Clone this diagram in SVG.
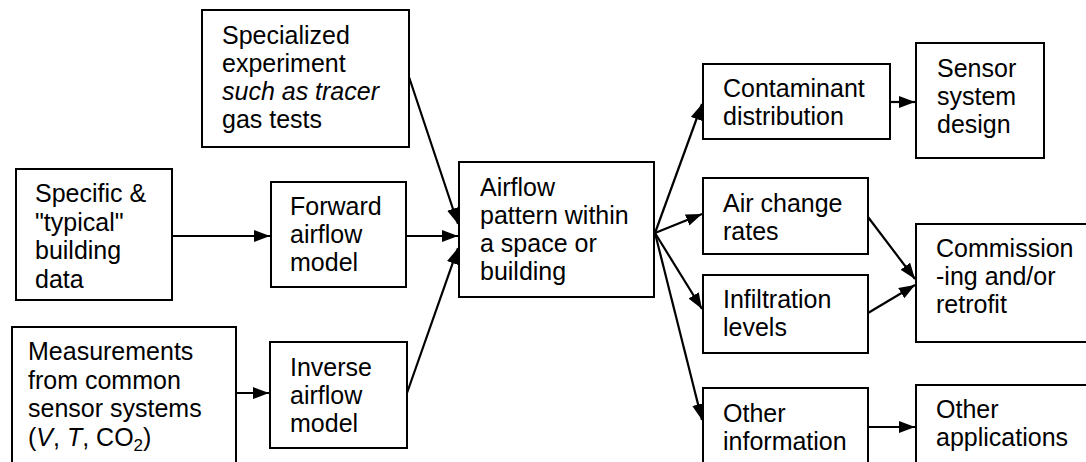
<svg xmlns="http://www.w3.org/2000/svg" width="1086" height="462" viewBox="0 0 1086 462">
<style>
.box{fill:#fff;stroke:#000;stroke-width:2}
.t{font-family:"Liberation Sans",Arial,sans-serif;font-size:25px;fill:#000}
.c{stroke:#000;stroke-width:2.2;fill:none;marker-end:url(#ah)}
</style>
<defs>
<marker id="ah" markerUnits="userSpaceOnUse" markerWidth="18" markerHeight="14" refX="16" refY="6" orient="auto">
<path d="M0,0 L16,6 L0,12 z" fill="#000"/>
</marker>
</defs>
<rect width="1086" height="462" fill="#fff"/>
<g id="connectors">
<line class="c" x1="172" y1="236" x2="270" y2="236"/>
<line class="c" x1="406" y1="236" x2="458" y2="236"/>
<line class="c" x1="409" y1="77" x2="458" y2="224"/>
<line class="c" x1="236" y1="393" x2="269" y2="393"/>
<line class="c" x1="407" y1="393" x2="458" y2="248"/>
<line class="c" x1="655" y1="233" x2="702" y2="104"/>
<line class="c" x1="655" y1="233" x2="702" y2="214"/>
<line class="c" x1="655" y1="233" x2="702" y2="309"/>
<line class="c" x1="655" y1="233" x2="702" y2="420"/>
<line class="c" x1="890" y1="102" x2="915" y2="102"/>
<line class="c" x1="868" y1="217" x2="915" y2="279"/>
<line class="c" x1="868" y1="313" x2="915" y2="285"/>
<line class="c" x1="868" y1="427" x2="915" y2="427"/>
</g>
<g id="specialized">
<rect class="box" x="202" y="10" width="207" height="137"/>
<text class="t" x="222" y="44">Specialized</text>
<text class="t" x="222" y="72">experiment</text>
<text class="t" x="222" y="100" font-style="italic">such as tracer</text>
<text class="t" x="222" y="128">gas tests</text>
</g>
<g id="specific">
<rect class="box" x="16" y="169" width="156" height="131"/>
<text class="t" x="35" y="202">Specific &amp;</text>
<text class="t" x="35" y="230.5">"typical"</text>
<text class="t" x="35" y="259">building</text>
<text class="t" x="35" y="287.5">data</text>
</g>
<g id="forward">
<rect class="box" x="271" y="182" width="135" height="105"/>
<text class="t" x="290" y="215">Forward</text>
<text class="t" x="290" y="243">airflow</text>
<text class="t" x="290" y="271">model</text>
</g>
<g id="measurements">
<rect class="box" x="12" y="327" width="224" height="150"/>
<text class="t" x="28" y="360">Measurements</text>
<text class="t" x="28" y="388.5">from common</text>
<text class="t" x="28" y="417">sensor systems</text>
<text class="t" x="28" y="445.5">(<tspan font-style="italic">V</tspan>, <tspan font-style="italic">T</tspan>, CO<tspan font-size="17" dy="5">2</tspan><tspan dy="-5">)</tspan></text>
</g>
<g id="inverse">
<rect class="box" x="270" y="342" width="137" height="106"/>
<text class="t" x="290" y="376">Inverse</text>
<text class="t" x="290" y="404">airflow</text>
<text class="t" x="290" y="432">model</text>
</g>
<g id="airflow">
<rect class="box" x="459" y="162" width="195" height="135"/>
<text class="t" x="480" y="196">Airflow</text>
<text class="t" x="480" y="224">pattern within</text>
<text class="t" x="480" y="252">a space or</text>
<text class="t" x="480" y="280">building</text>
</g>
<g id="contaminant">
<rect class="box" x="703" y="64" width="187" height="75"/>
<text class="t" x="723" y="97">Contaminant</text>
<text class="t" x="723" y="125">distribution</text>
</g>
<g id="sensor">
<rect class="box" x="916" y="43" width="128" height="115"/>
<text class="t" x="937" y="77">Sensor</text>
<text class="t" x="937" y="105">system</text>
<text class="t" x="937" y="133">design</text>
</g>
<g id="airchange">
<rect class="box" x="703" y="178" width="165" height="76"/>
<text class="t" x="723" y="212">Air change</text>
<text class="t" x="723" y="240">rates</text>
</g>
<g id="infiltration">
<rect class="box" x="703" y="275" width="165" height="78"/>
<text class="t" x="723" y="308">Infiltration</text>
<text class="t" x="723" y="336">levels</text>
</g>
<g id="otherinfo">
<rect class="box" x="703" y="388" width="165" height="90"/>
<text class="t" x="723" y="422">Other</text>
<text class="t" x="723" y="450">information</text>
</g>
<g id="commissioning">
<rect class="box" x="916" y="224" width="180" height="118"/>
<text class="t" x="936" y="257">Commission</text>
<text class="t" x="936" y="285">-ing and/or</text>
<text class="t" x="936" y="313">retrofit</text>
</g>
<g id="otherapps">
<rect class="box" x="916" y="385" width="180" height="90"/>
<text class="t" x="936" y="418">Other</text>
<text class="t" x="936" y="446">applications</text>
</g>
</svg>
